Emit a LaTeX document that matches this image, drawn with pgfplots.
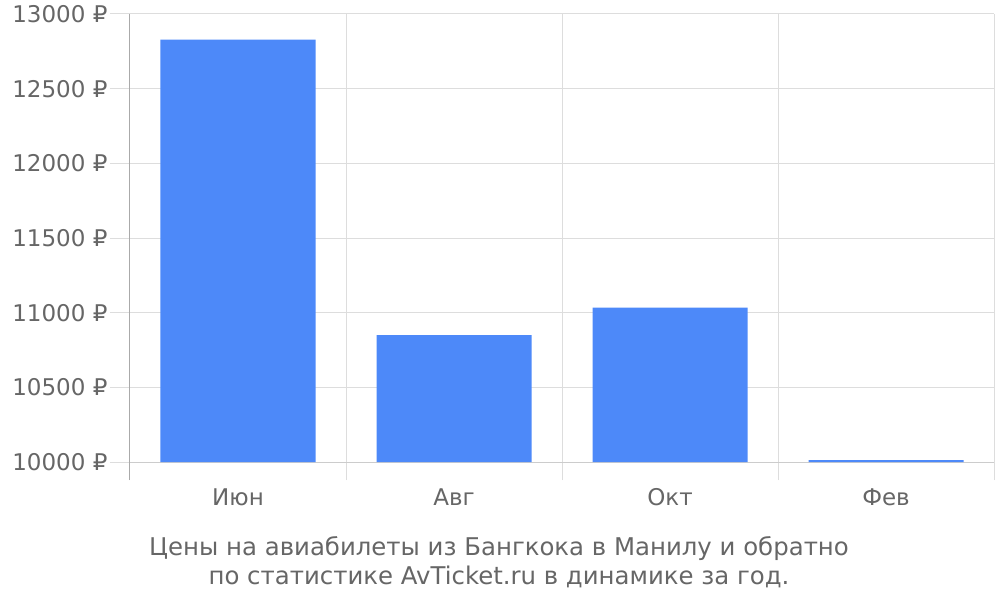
\documentclass[border=0pt]{standalone}
\usepackage{fontspec}
\setmainfont{DejaVu Sans}
\usepackage{pgfplots}
\pgfplotsset{compat=1.18}
\definecolor{barblue}{HTML}{4D89F9}
\definecolor{txt}{HTML}{666666}
\definecolor{gridc}{HTML}{DDDDDD}
\definecolor{xaxisc}{HTML}{CCCCCC}
\definecolor{yaxisc}{HTML}{AAAAAA}
\begin{document}
\begin{tikzpicture}
\begin{axis}[
  scale only axis, width=864pt, height=448pt,
  xmin=-0.5, xmax=3.5, ymin=10000, ymax=13000,
  ytick={10000,10500,...,13000},
  scaled y ticks=false,
  xtick={0,1,2,3}, xticklabels={Июн,Авг,Окт,Фев},
  minor xtick={-0.5,0.5,1.5,2.5,3.5},
  ymajorgrids, xminorgrids,
  grid style={draw=gridc, line width=1pt},
  axis x line*=bottom, axis y line*=left,
  x axis line style={draw=xaxisc, line width=1pt, -},
  y axis line style={draw=yaxisc, line width=1pt, -, shorten <=-18pt},
  tick align=outside,
  major tick length=20pt, minor tick length=18pt,
  ytick style={draw=gridc, line width=1pt},
  major x tick style={draw=none},
  minor x tick style={draw=gridc, line width=1pt},
  ticklabel style={font=\fontsize{23}{27}\selectfont, text=txt},
  xticklabel style={yshift=-3pt},
  yticklabel style={xshift=1pt},
  /pgf/number format/assume math mode=true,
  /pgf/number format/fixed,
  /pgf/number format/1000 sep={},
  yticklabel={\pgfmathprintnumber{\tick} ₽},
  ybar, bar width=155pt,
]
\addplot[fill=barblue, draw=none] coordinates {(0,12828) (1,10850) (2,11033) (3,10012)};
\end{axis}
\node[anchor=center, align=center, text=txt, font=\fontsize{24.4}{29}\selectfont]
  at ([xshift=369pt,yshift=-100pt]current axis.south west)
  {Цены на авиабилеты из Бангкока в Манилу и обратно\\по статистике AvTicket.ru в динамике за год.};
\path[use as bounding box] ([xshift=-130pt,yshift=-138pt]current axis.south west) rectangle ++(1000pt,600pt);
\end{tikzpicture}
\end{document}
